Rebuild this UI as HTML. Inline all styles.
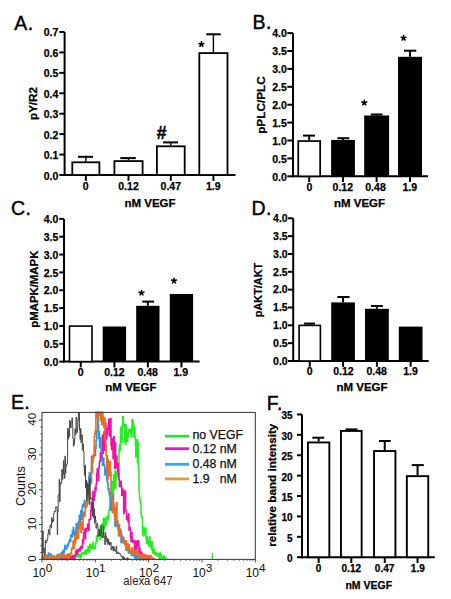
<!DOCTYPE html>
<html><head><meta charset="utf-8"><style>
html,body{margin:0;padding:0;background:#fff;}
body{width:451px;height:599px;overflow:hidden;}
svg{display:block;}
</style></head><body>
<svg width="451" height="599" viewBox="0 0 451 599">
<rect width="451" height="599" fill="#fff"/>
<line x1="64.60" y1="32.00" x2="64.60" y2="176.00" stroke="#000" stroke-width="2"/>
<line x1="63.60" y1="175.00" x2="235.50" y2="175.00" stroke="#000" stroke-width="2"/>
<line x1="59.30" y1="175.00" x2="64.60" y2="175.00" stroke="#000" stroke-width="2"/>
<text x="58.40" y="179.50" font-size="10.5" font-family="'Liberation Sans', sans-serif" font-weight="bold" text-anchor="end"  stroke="#000" stroke-width="0.25">0.0</text>
<line x1="59.30" y1="154.57" x2="64.60" y2="154.57" stroke="#000" stroke-width="2"/>
<text x="58.40" y="159.07" font-size="10.5" font-family="'Liberation Sans', sans-serif" font-weight="bold" text-anchor="end"  stroke="#000" stroke-width="0.25">0.1</text>
<line x1="59.30" y1="134.14" x2="64.60" y2="134.14" stroke="#000" stroke-width="2"/>
<text x="58.40" y="138.64" font-size="10.5" font-family="'Liberation Sans', sans-serif" font-weight="bold" text-anchor="end"  stroke="#000" stroke-width="0.25">0.2</text>
<line x1="59.30" y1="113.71" x2="64.60" y2="113.71" stroke="#000" stroke-width="2"/>
<text x="58.40" y="118.21" font-size="10.5" font-family="'Liberation Sans', sans-serif" font-weight="bold" text-anchor="end"  stroke="#000" stroke-width="0.25">0.3</text>
<line x1="59.30" y1="93.28" x2="64.60" y2="93.28" stroke="#000" stroke-width="2"/>
<text x="58.40" y="97.78" font-size="10.5" font-family="'Liberation Sans', sans-serif" font-weight="bold" text-anchor="end"  stroke="#000" stroke-width="0.25">0.4</text>
<line x1="59.30" y1="72.85" x2="64.60" y2="72.85" stroke="#000" stroke-width="2"/>
<text x="58.40" y="77.35" font-size="10.5" font-family="'Liberation Sans', sans-serif" font-weight="bold" text-anchor="end"  stroke="#000" stroke-width="0.25">0.5</text>
<line x1="59.30" y1="52.42" x2="64.60" y2="52.42" stroke="#000" stroke-width="2"/>
<text x="58.40" y="56.92" font-size="10.5" font-family="'Liberation Sans', sans-serif" font-weight="bold" text-anchor="end"  stroke="#000" stroke-width="0.25">0.6</text>
<line x1="59.30" y1="31.99" x2="64.60" y2="31.99" stroke="#000" stroke-width="2"/>
<text x="58.40" y="36.49" font-size="10.5" font-family="'Liberation Sans', sans-serif" font-weight="bold" text-anchor="end"  stroke="#000" stroke-width="0.25">0.7</text>
<line x1="85.85" y1="156.80" x2="85.85" y2="161.40" stroke="#000" stroke-width="1.4"/>
<line x1="78.00" y1="156.80" x2="93.00" y2="156.80" stroke="#000" stroke-width="2"/>
<rect x="72.30000000000001" y="162.3" width="27.09999999999999" height="12.699999999999994" fill="#fff" stroke="#000" stroke-width="1.8"/>
<line x1="85.85" y1="175.00" x2="85.85" y2="180.80" stroke="#000" stroke-width="2"/>
<line x1="128.50" y1="158.10" x2="128.50" y2="160.20" stroke="#000" stroke-width="1.4"/>
<line x1="120.30" y1="158.10" x2="135.80" y2="158.10" stroke="#000" stroke-width="2"/>
<rect x="114.4" y="161.1" width="28.2" height="13.900000000000011" fill="#fff" stroke="#000" stroke-width="1.8"/>
<line x1="128.50" y1="175.00" x2="128.50" y2="180.80" stroke="#000" stroke-width="2"/>
<line x1="170.80" y1="142.40" x2="170.80" y2="145.40" stroke="#000" stroke-width="1.4"/>
<line x1="163.00" y1="142.40" x2="178.00" y2="142.40" stroke="#000" stroke-width="2"/>
<rect x="156.9" y="146.3" width="27.799999999999994" height="28.699999999999996" fill="#fff" stroke="#000" stroke-width="1.8"/>
<line x1="170.80" y1="175.00" x2="170.80" y2="180.80" stroke="#000" stroke-width="2"/>
<line x1="213.40" y1="34.30" x2="213.40" y2="52.20" stroke="#000" stroke-width="1.4"/>
<line x1="206.30" y1="34.30" x2="220.70" y2="34.30" stroke="#000" stroke-width="2"/>
<rect x="199.3" y="53.1" width="28.2" height="121.89999999999999" fill="#fff" stroke="#000" stroke-width="1.8"/>
<line x1="213.40" y1="175.00" x2="213.40" y2="180.80" stroke="#000" stroke-width="2"/>
<text x="85.60" y="190.20" font-size="10.5" font-family="'Liberation Sans', sans-serif" font-weight="bold" text-anchor="middle"  stroke="#000" stroke-width="0.25">0</text>
<text x="128.50" y="190.20" font-size="10.5" font-family="'Liberation Sans', sans-serif" font-weight="bold" text-anchor="middle"  stroke="#000" stroke-width="0.25">0.12</text>
<text x="170.80" y="190.20" font-size="10.5" font-family="'Liberation Sans', sans-serif" font-weight="bold" text-anchor="middle"  stroke="#000" stroke-width="0.25">0.47</text>
<text x="213.30" y="190.20" font-size="10.5" font-family="'Liberation Sans', sans-serif" font-weight="bold" text-anchor="middle"  stroke="#000" stroke-width="0.25">1.9</text>
<text x="150.00" y="207.30" font-size="11.5" font-family="'Liberation Sans', sans-serif" font-weight="bold" text-anchor="middle"  stroke="#000" stroke-width="0.25">nM VEGF</text>
<text x="14.30" y="29.60" font-size="19.5" font-family="'Liberation Sans', sans-serif" text-anchor="start" stroke="#000" stroke-width="0.4" letter-spacing="0.5">A.</text>
<text x="36.60" y="103.50" font-size="11.6" font-family="'Liberation Sans', sans-serif" font-weight="bold" text-anchor="middle" transform="rotate(-90 36.60 103.50)"  stroke="#000" stroke-width="0.25">pY/R2</text>
<text x="161.6" y="138.9" font-size="17.5" font-family="'Liberation Sans', sans-serif" font-weight="bold" text-anchor="middle" stroke="#000" stroke-width="0.4">#</text>
<path d="M201.40,44.30L201.40,41.85M201.40,44.30L203.73,43.54M201.40,44.30L202.84,46.28M201.40,44.30L199.96,46.28M201.40,44.30L199.07,43.54" stroke="#000" stroke-width="1.6" stroke-linecap="round" fill="none"/>
<line x1="293.00" y1="33.10" x2="293.00" y2="177.30" stroke="#000" stroke-width="2"/>
<line x1="292.00" y1="176.30" x2="428.00" y2="176.30" stroke="#000" stroke-width="2"/>
<line x1="287.30" y1="176.30" x2="293.00" y2="176.30" stroke="#000" stroke-width="2"/>
<text x="286.80" y="180.60" font-size="10.5" font-family="'Liberation Sans', sans-serif" font-weight="bold" text-anchor="end"  stroke="#000" stroke-width="0.25">0.0</text>
<line x1="287.30" y1="158.40" x2="293.00" y2="158.40" stroke="#000" stroke-width="2"/>
<text x="286.80" y="162.70" font-size="10.5" font-family="'Liberation Sans', sans-serif" font-weight="bold" text-anchor="end"  stroke="#000" stroke-width="0.25">0.5</text>
<line x1="287.30" y1="140.50" x2="293.00" y2="140.50" stroke="#000" stroke-width="2"/>
<text x="286.80" y="144.80" font-size="10.5" font-family="'Liberation Sans', sans-serif" font-weight="bold" text-anchor="end"  stroke="#000" stroke-width="0.25">1.0</text>
<line x1="287.30" y1="122.60" x2="293.00" y2="122.60" stroke="#000" stroke-width="2"/>
<text x="286.80" y="126.90" font-size="10.5" font-family="'Liberation Sans', sans-serif" font-weight="bold" text-anchor="end"  stroke="#000" stroke-width="0.25">1.5</text>
<line x1="287.30" y1="104.70" x2="293.00" y2="104.70" stroke="#000" stroke-width="2"/>
<text x="286.80" y="109.00" font-size="10.5" font-family="'Liberation Sans', sans-serif" font-weight="bold" text-anchor="end"  stroke="#000" stroke-width="0.25">2.0</text>
<line x1="287.30" y1="86.80" x2="293.00" y2="86.80" stroke="#000" stroke-width="2"/>
<text x="286.80" y="91.10" font-size="10.5" font-family="'Liberation Sans', sans-serif" font-weight="bold" text-anchor="end"  stroke="#000" stroke-width="0.25">2.5</text>
<line x1="287.30" y1="68.90" x2="293.00" y2="68.90" stroke="#000" stroke-width="2"/>
<text x="286.80" y="73.20" font-size="10.5" font-family="'Liberation Sans', sans-serif" font-weight="bold" text-anchor="end"  stroke="#000" stroke-width="0.25">3.0</text>
<line x1="287.30" y1="51.00" x2="293.00" y2="51.00" stroke="#000" stroke-width="2"/>
<text x="286.80" y="55.30" font-size="10.5" font-family="'Liberation Sans', sans-serif" font-weight="bold" text-anchor="end"  stroke="#000" stroke-width="0.25">3.5</text>
<line x1="287.30" y1="33.10" x2="293.00" y2="33.10" stroke="#000" stroke-width="2"/>
<text x="286.80" y="37.40" font-size="10.5" font-family="'Liberation Sans', sans-serif" font-weight="bold" text-anchor="end"  stroke="#000" stroke-width="0.25">4.0</text>
<line x1="309.20" y1="135.60" x2="309.20" y2="140.20" stroke="#000" stroke-width="2"/>
<line x1="303.00" y1="135.60" x2="315.00" y2="135.60" stroke="#000" stroke-width="2"/>
<rect x="298.25" y="141.04999999999998" width="21.900000000000023" height="35.25000000000002" fill="#fff" stroke="#000" stroke-width="1.7"/>
<line x1="309.20" y1="176.30" x2="309.20" y2="182.10" stroke="#000" stroke-width="2"/>
<line x1="343.00" y1="138.20" x2="343.00" y2="139.90" stroke="#000" stroke-width="2"/>
<line x1="337.40" y1="138.20" x2="349.30" y2="138.20" stroke="#000" stroke-width="2"/>
<rect x="331.1" y="139.9" width="23.799999999999955" height="36.400000000000006" fill="#000"/>
<line x1="343.00" y1="176.30" x2="343.00" y2="182.10" stroke="#000" stroke-width="2"/>
<line x1="376.65" y1="114.50" x2="376.65" y2="115.50" stroke="#000" stroke-width="2"/>
<line x1="370.80" y1="114.50" x2="382.50" y2="114.50" stroke="#000" stroke-width="2"/>
<rect x="364.2" y="115.5" width="24.900000000000034" height="60.80000000000001" fill="#000"/>
<line x1="376.65" y1="176.30" x2="376.65" y2="182.10" stroke="#000" stroke-width="2"/>
<line x1="410.00" y1="50.70" x2="410.00" y2="56.80" stroke="#000" stroke-width="2"/>
<line x1="404.00" y1="50.70" x2="416.30" y2="50.70" stroke="#000" stroke-width="2"/>
<rect x="398" y="56.8" width="24" height="119.50000000000001" fill="#000"/>
<line x1="410.00" y1="176.30" x2="410.00" y2="182.10" stroke="#000" stroke-width="2"/>
<text x="309.30" y="191.00" font-size="10.5" font-family="'Liberation Sans', sans-serif" font-weight="bold" text-anchor="middle"  stroke="#000" stroke-width="0.25">0</text>
<text x="342.80" y="191.00" font-size="10.5" font-family="'Liberation Sans', sans-serif" font-weight="bold" text-anchor="middle"  stroke="#000" stroke-width="0.25">0.12</text>
<text x="375.50" y="191.00" font-size="10.5" font-family="'Liberation Sans', sans-serif" font-weight="bold" text-anchor="middle"  stroke="#000" stroke-width="0.25">0.48</text>
<text x="409.80" y="191.00" font-size="10.5" font-family="'Liberation Sans', sans-serif" font-weight="bold" text-anchor="middle"  stroke="#000" stroke-width="0.25">1.9</text>
<text x="359.50" y="207.30" font-size="11.5" font-family="'Liberation Sans', sans-serif" font-weight="bold" text-anchor="middle"  stroke="#000" stroke-width="0.25">nM VEGF</text>
<text x="252.50" y="29.00" font-size="19.5" font-family="'Liberation Sans', sans-serif" text-anchor="start" stroke="#000" stroke-width="0.4" letter-spacing="0.5">B.</text>
<text x="265.30" y="105.00" font-size="11.8" font-family="'Liberation Sans', sans-serif" font-weight="bold" text-anchor="middle" transform="rotate(-90 265.30 105.00)"  stroke="#000" stroke-width="0.25">pPLC/PLC</text>
<path d="M364.30,102.70L364.30,100.25M364.30,102.70L366.63,101.94M364.30,102.70L365.74,104.68M364.30,102.70L362.86,104.68M364.30,102.70L361.97,101.94" stroke="#000" stroke-width="1.6" stroke-linecap="round" fill="none"/>
<path d="M403.60,38.00L403.60,35.55M403.60,38.00L405.93,37.24M403.60,38.00L405.04,39.98M403.60,38.00L402.16,39.98M403.60,38.00L401.27,37.24" stroke="#000" stroke-width="1.6" stroke-linecap="round" fill="none"/>
<line x1="64.00" y1="218.90" x2="64.00" y2="362.60" stroke="#000" stroke-width="2"/>
<line x1="63.00" y1="361.60" x2="199.60" y2="361.60" stroke="#000" stroke-width="2"/>
<line x1="59.30" y1="361.60" x2="64.00" y2="361.60" stroke="#000" stroke-width="2"/>
<text x="58.40" y="365.70" font-size="10.5" font-family="'Liberation Sans', sans-serif" font-weight="bold" text-anchor="end"  stroke="#000" stroke-width="0.25">0.0</text>
<line x1="59.30" y1="343.76" x2="64.00" y2="343.76" stroke="#000" stroke-width="2"/>
<text x="58.40" y="347.86" font-size="10.5" font-family="'Liberation Sans', sans-serif" font-weight="bold" text-anchor="end"  stroke="#000" stroke-width="0.25">0.5</text>
<line x1="59.30" y1="325.92" x2="64.00" y2="325.92" stroke="#000" stroke-width="2"/>
<text x="58.40" y="330.02" font-size="10.5" font-family="'Liberation Sans', sans-serif" font-weight="bold" text-anchor="end"  stroke="#000" stroke-width="0.25">1.0</text>
<line x1="59.30" y1="308.08" x2="64.00" y2="308.08" stroke="#000" stroke-width="2"/>
<text x="58.40" y="312.18" font-size="10.5" font-family="'Liberation Sans', sans-serif" font-weight="bold" text-anchor="end"  stroke="#000" stroke-width="0.25">1.5</text>
<line x1="59.30" y1="290.24" x2="64.00" y2="290.24" stroke="#000" stroke-width="2"/>
<text x="58.40" y="294.34" font-size="10.5" font-family="'Liberation Sans', sans-serif" font-weight="bold" text-anchor="end"  stroke="#000" stroke-width="0.25">2.0</text>
<line x1="59.30" y1="272.40" x2="64.00" y2="272.40" stroke="#000" stroke-width="2"/>
<text x="58.40" y="276.50" font-size="10.5" font-family="'Liberation Sans', sans-serif" font-weight="bold" text-anchor="end"  stroke="#000" stroke-width="0.25">2.5</text>
<line x1="59.30" y1="254.56" x2="64.00" y2="254.56" stroke="#000" stroke-width="2"/>
<text x="58.40" y="258.66" font-size="10.5" font-family="'Liberation Sans', sans-serif" font-weight="bold" text-anchor="end"  stroke="#000" stroke-width="0.25">3.0</text>
<line x1="59.30" y1="236.72" x2="64.00" y2="236.72" stroke="#000" stroke-width="2"/>
<text x="58.40" y="240.82" font-size="10.5" font-family="'Liberation Sans', sans-serif" font-weight="bold" text-anchor="end"  stroke="#000" stroke-width="0.25">3.5</text>
<line x1="59.30" y1="218.88" x2="64.00" y2="218.88" stroke="#000" stroke-width="2"/>
<text x="58.40" y="222.98" font-size="10.5" font-family="'Liberation Sans', sans-serif" font-weight="bold" text-anchor="end"  stroke="#000" stroke-width="0.25">4.0</text>
<rect x="69.5" y="326.1" width="22.499999999999993" height="35.500000000000014" fill="#fff" stroke="#000" stroke-width="1.6"/>
<line x1="80.75" y1="361.60" x2="80.75" y2="367.40" stroke="#000" stroke-width="2"/>
<rect x="102.7" y="326.5" width="23.39999999999999" height="35.10000000000002" fill="#000"/>
<line x1="114.40" y1="361.60" x2="114.40" y2="367.40" stroke="#000" stroke-width="2"/>
<line x1="147.85" y1="301.60" x2="147.85" y2="305.80" stroke="#000" stroke-width="2"/>
<line x1="142.30" y1="301.60" x2="154.20" y2="301.60" stroke="#000" stroke-width="2"/>
<rect x="136.2" y="305.8" width="23.30000000000001" height="55.80000000000001" fill="#000"/>
<line x1="147.85" y1="361.60" x2="147.85" y2="367.40" stroke="#000" stroke-width="2"/>
<rect x="169.8" y="294" width="23.299999999999983" height="67.60000000000002" fill="#000"/>
<line x1="181.45" y1="361.60" x2="181.45" y2="367.40" stroke="#000" stroke-width="2"/>
<text x="80.60" y="376.30" font-size="10.5" font-family="'Liberation Sans', sans-serif" font-weight="bold" text-anchor="middle"  stroke="#000" stroke-width="0.25">0</text>
<text x="114.40" y="376.30" font-size="10.5" font-family="'Liberation Sans', sans-serif" font-weight="bold" text-anchor="middle"  stroke="#000" stroke-width="0.25">0.12</text>
<text x="147.60" y="376.30" font-size="10.5" font-family="'Liberation Sans', sans-serif" font-weight="bold" text-anchor="middle"  stroke="#000" stroke-width="0.25">0.48</text>
<text x="180.80" y="376.30" font-size="10.5" font-family="'Liberation Sans', sans-serif" font-weight="bold" text-anchor="middle"  stroke="#000" stroke-width="0.25">1.9</text>
<text x="130.90" y="391.00" font-size="11.5" font-family="'Liberation Sans', sans-serif" font-weight="bold" text-anchor="middle"  stroke="#000" stroke-width="0.25">nM VEGF</text>
<text x="11.00" y="214.60" font-size="19.5" font-family="'Liberation Sans', sans-serif" text-anchor="start" stroke="#000" stroke-width="0.4" letter-spacing="0.5">C.</text>
<text x="38.30" y="289.20" font-size="11.4" font-family="'Liberation Sans', sans-serif" font-weight="bold" text-anchor="middle" transform="rotate(-90 38.30 289.20)"  stroke="#000" stroke-width="0.25">pMAPK/MAPK</text>
<path d="M141.50,292.90L141.50,290.45M141.50,292.90L143.83,292.14M141.50,292.90L142.94,294.88M141.50,292.90L140.06,294.88M141.50,292.90L139.17,292.14" stroke="#000" stroke-width="1.6" stroke-linecap="round" fill="none"/>
<path d="M174.00,280.80L174.00,278.35M174.00,280.80L176.33,280.04M174.00,280.80L175.44,282.78M174.00,280.80L172.56,282.78M174.00,280.80L171.67,280.04" stroke="#000" stroke-width="1.6" stroke-linecap="round" fill="none"/>
<line x1="293.20" y1="218.30" x2="293.20" y2="362.00" stroke="#000" stroke-width="2"/>
<line x1="292.20" y1="361.00" x2="428.70" y2="361.00" stroke="#000" stroke-width="2"/>
<line x1="288.00" y1="361.00" x2="293.20" y2="361.00" stroke="#000" stroke-width="2"/>
<text x="287.70" y="364.80" font-size="10.5" font-family="'Liberation Sans', sans-serif" font-weight="bold" text-anchor="end"  stroke="#000" stroke-width="0.25">0.0</text>
<line x1="288.00" y1="343.16" x2="293.20" y2="343.16" stroke="#000" stroke-width="2"/>
<text x="287.70" y="346.96" font-size="10.5" font-family="'Liberation Sans', sans-serif" font-weight="bold" text-anchor="end"  stroke="#000" stroke-width="0.25">0.5</text>
<line x1="288.00" y1="325.32" x2="293.20" y2="325.32" stroke="#000" stroke-width="2"/>
<text x="287.70" y="329.12" font-size="10.5" font-family="'Liberation Sans', sans-serif" font-weight="bold" text-anchor="end"  stroke="#000" stroke-width="0.25">1.0</text>
<line x1="288.00" y1="307.48" x2="293.20" y2="307.48" stroke="#000" stroke-width="2"/>
<text x="287.70" y="311.28" font-size="10.5" font-family="'Liberation Sans', sans-serif" font-weight="bold" text-anchor="end"  stroke="#000" stroke-width="0.25">1.5</text>
<line x1="288.00" y1="289.64" x2="293.20" y2="289.64" stroke="#000" stroke-width="2"/>
<text x="287.70" y="293.44" font-size="10.5" font-family="'Liberation Sans', sans-serif" font-weight="bold" text-anchor="end"  stroke="#000" stroke-width="0.25">2.0</text>
<line x1="288.00" y1="271.80" x2="293.20" y2="271.80" stroke="#000" stroke-width="2"/>
<text x="287.70" y="275.60" font-size="10.5" font-family="'Liberation Sans', sans-serif" font-weight="bold" text-anchor="end"  stroke="#000" stroke-width="0.25">2.5</text>
<line x1="288.00" y1="253.96" x2="293.20" y2="253.96" stroke="#000" stroke-width="2"/>
<text x="287.70" y="257.76" font-size="10.5" font-family="'Liberation Sans', sans-serif" font-weight="bold" text-anchor="end"  stroke="#000" stroke-width="0.25">3.0</text>
<line x1="288.00" y1="236.12" x2="293.20" y2="236.12" stroke="#000" stroke-width="2"/>
<text x="287.70" y="239.92" font-size="10.5" font-family="'Liberation Sans', sans-serif" font-weight="bold" text-anchor="end"  stroke="#000" stroke-width="0.25">3.5</text>
<line x1="288.00" y1="218.28" x2="293.20" y2="218.28" stroke="#000" stroke-width="2"/>
<text x="287.70" y="222.08" font-size="10.5" font-family="'Liberation Sans', sans-serif" font-weight="bold" text-anchor="end"  stroke="#000" stroke-width="0.25">4.0</text>
<line x1="309.75" y1="323.60" x2="309.75" y2="324.60" stroke="#000" stroke-width="2"/>
<line x1="304.00" y1="323.60" x2="315.00" y2="323.60" stroke="#000" stroke-width="2"/>
<rect x="299.1" y="325.40000000000003" width="21.299999999999976" height="35.59999999999998" fill="#fff" stroke="#000" stroke-width="1.6"/>
<line x1="309.75" y1="361.00" x2="309.75" y2="366.80" stroke="#000" stroke-width="2"/>
<line x1="343.05" y1="297.00" x2="343.05" y2="302.40" stroke="#000" stroke-width="2"/>
<line x1="337.30" y1="297.00" x2="349.50" y2="297.00" stroke="#000" stroke-width="2"/>
<rect x="331.2" y="302.4" width="23.69999999999999" height="58.60000000000002" fill="#000"/>
<line x1="343.05" y1="361.00" x2="343.05" y2="366.80" stroke="#000" stroke-width="2"/>
<line x1="376.90" y1="306.00" x2="376.90" y2="308.80" stroke="#000" stroke-width="2"/>
<line x1="371.00" y1="306.00" x2="382.80" y2="306.00" stroke="#000" stroke-width="2"/>
<rect x="365" y="308.8" width="23.80000000000001" height="52.19999999999999" fill="#000"/>
<line x1="376.90" y1="361.00" x2="376.90" y2="366.80" stroke="#000" stroke-width="2"/>
<rect x="398.8" y="326.6" width="23.69999999999999" height="34.39999999999998" fill="#000"/>
<line x1="410.65" y1="361.00" x2="410.65" y2="366.80" stroke="#000" stroke-width="2"/>
<text x="309.60" y="375.40" font-size="10.5" font-family="'Liberation Sans', sans-serif" font-weight="bold" text-anchor="middle"  stroke="#000" stroke-width="0.25">0</text>
<text x="343.40" y="375.40" font-size="10.5" font-family="'Liberation Sans', sans-serif" font-weight="bold" text-anchor="middle"  stroke="#000" stroke-width="0.25">0.12</text>
<text x="376.60" y="375.40" font-size="10.5" font-family="'Liberation Sans', sans-serif" font-weight="bold" text-anchor="middle"  stroke="#000" stroke-width="0.25">0.48</text>
<text x="410.50" y="375.40" font-size="10.5" font-family="'Liberation Sans', sans-serif" font-weight="bold" text-anchor="middle"  stroke="#000" stroke-width="0.25">1.9</text>
<text x="362.00" y="391.00" font-size="11.5" font-family="'Liberation Sans', sans-serif" font-weight="bold" text-anchor="middle"  stroke="#000" stroke-width="0.25">nM VEGF</text>
<text x="251.50" y="214.60" font-size="19.5" font-family="'Liberation Sans', sans-serif" text-anchor="start" stroke="#000" stroke-width="0.4" letter-spacing="0.5">D.</text>
<text x="261.60" y="290.00" font-size="10.9" font-family="'Liberation Sans', sans-serif" font-weight="bold" text-anchor="middle" transform="rotate(-90 261.60 290.00)"  stroke="#000" stroke-width="0.25">pAKT/AKT</text>
<line x1="302.00" y1="414.50" x2="302.00" y2="558.20" stroke="#000" stroke-width="2"/>
<line x1="301.00" y1="557.20" x2="434.80" y2="557.20" stroke="#000" stroke-width="2"/>
<line x1="297.00" y1="557.20" x2="302.00" y2="557.20" stroke="#000" stroke-width="2"/>
<text x="292.60" y="562.20" font-size="10" font-family="'Liberation Sans', sans-serif" font-weight="bold" text-anchor="end"  stroke="#000" stroke-width="0.25">0</text>
<line x1="297.00" y1="536.81" x2="302.00" y2="536.81" stroke="#000" stroke-width="2"/>
<text x="292.60" y="541.81" font-size="10" font-family="'Liberation Sans', sans-serif" font-weight="bold" text-anchor="end"  stroke="#000" stroke-width="0.25">5</text>
<line x1="297.00" y1="516.42" x2="302.00" y2="516.42" stroke="#000" stroke-width="2"/>
<text x="292.60" y="521.42" font-size="10" font-family="'Liberation Sans', sans-serif" font-weight="bold" text-anchor="end"  stroke="#000" stroke-width="0.25">10</text>
<line x1="297.00" y1="496.03" x2="302.00" y2="496.03" stroke="#000" stroke-width="2"/>
<text x="292.60" y="501.03" font-size="10" font-family="'Liberation Sans', sans-serif" font-weight="bold" text-anchor="end"  stroke="#000" stroke-width="0.25">15</text>
<line x1="297.00" y1="475.64" x2="302.00" y2="475.64" stroke="#000" stroke-width="2"/>
<text x="292.60" y="480.64" font-size="10" font-family="'Liberation Sans', sans-serif" font-weight="bold" text-anchor="end"  stroke="#000" stroke-width="0.25">20</text>
<line x1="297.00" y1="455.25" x2="302.00" y2="455.25" stroke="#000" stroke-width="2"/>
<text x="292.60" y="460.25" font-size="10" font-family="'Liberation Sans', sans-serif" font-weight="bold" text-anchor="end"  stroke="#000" stroke-width="0.25">25</text>
<line x1="297.00" y1="434.86" x2="302.00" y2="434.86" stroke="#000" stroke-width="2"/>
<text x="292.60" y="439.86" font-size="10" font-family="'Liberation Sans', sans-serif" font-weight="bold" text-anchor="end"  stroke="#000" stroke-width="0.25">30</text>
<line x1="297.00" y1="414.47" x2="302.00" y2="414.47" stroke="#000" stroke-width="2"/>
<text x="292.60" y="419.47" font-size="10" font-family="'Liberation Sans', sans-serif" font-weight="bold" text-anchor="end"  stroke="#000" stroke-width="0.25">35</text>
<line x1="318.65" y1="437.70" x2="318.65" y2="441.50" stroke="#000" stroke-width="2"/>
<line x1="312.30" y1="437.70" x2="324.20" y2="437.70" stroke="#000" stroke-width="2"/>
<rect x="307.95" y="442.45" width="21.400000000000013" height="114.75000000000004" fill="#fff" stroke="#000" stroke-width="1.9"/>
<line x1="318.65" y1="557.20" x2="318.65" y2="563.00" stroke="#000" stroke-width="2"/>
<line x1="351.30" y1="429.40" x2="351.30" y2="430.00" stroke="#000" stroke-width="2"/>
<line x1="345.50" y1="429.40" x2="357.50" y2="429.40" stroke="#000" stroke-width="2"/>
<rect x="340.95" y="430.95" width="20.700000000000024" height="126.25000000000004" fill="#fff" stroke="#000" stroke-width="1.9"/>
<line x1="351.30" y1="557.20" x2="351.30" y2="563.00" stroke="#000" stroke-width="2"/>
<line x1="384.75" y1="441.00" x2="384.75" y2="450.10" stroke="#000" stroke-width="2"/>
<line x1="378.90" y1="441.00" x2="390.70" y2="441.00" stroke="#000" stroke-width="2"/>
<rect x="374.05" y="451.05" width="21.399999999999956" height="106.15000000000002" fill="#fff" stroke="#000" stroke-width="1.9"/>
<line x1="384.75" y1="557.20" x2="384.75" y2="563.00" stroke="#000" stroke-width="2"/>
<line x1="417.55" y1="465.10" x2="417.55" y2="475.20" stroke="#000" stroke-width="2"/>
<line x1="411.80" y1="465.10" x2="423.80" y2="465.10" stroke="#000" stroke-width="2"/>
<rect x="406.84999999999997" y="476.15" width="21.400000000000013" height="81.05000000000005" fill="#fff" stroke="#000" stroke-width="1.9"/>
<line x1="417.55" y1="557.20" x2="417.55" y2="563.00" stroke="#000" stroke-width="2"/>
<text x="318.50" y="571.60" font-size="10" font-family="'Liberation Sans', sans-serif" font-weight="bold" text-anchor="middle"  stroke="#000" stroke-width="0.25">0</text>
<text x="351.30" y="571.60" font-size="10" font-family="'Liberation Sans', sans-serif" font-weight="bold" text-anchor="middle"  stroke="#000" stroke-width="0.25">0.12</text>
<text x="384.60" y="571.60" font-size="10" font-family="'Liberation Sans', sans-serif" font-weight="bold" text-anchor="middle"  stroke="#000" stroke-width="0.25">0.47</text>
<text x="417.80" y="571.60" font-size="10" font-family="'Liberation Sans', sans-serif" font-weight="bold" text-anchor="middle"  stroke="#000" stroke-width="0.25">1.9</text>
<text x="368.80" y="588.80" font-size="10.5" font-family="'Liberation Sans', sans-serif" font-weight="bold" text-anchor="middle"  stroke="#000" stroke-width="0.25">nM VEGF</text>
<text x="266.70" y="410.30" font-size="19.5" font-family="'Liberation Sans', sans-serif" text-anchor="start" stroke="#000" stroke-width="0.4" letter-spacing="0.5">F.</text>
<text x="276.00" y="485.20" font-size="11.66" font-family="'Liberation Sans', sans-serif" font-weight="bold" text-anchor="middle" transform="rotate(-90 276.00 485.20)"  stroke="#000" stroke-width="0.25">relative band intensity</text>
<text x="11.00" y="409.00" font-size="19.5" font-family="'Liberation Sans', sans-serif" text-anchor="start" stroke="#000" stroke-width="0.4" letter-spacing="0.3">E.</text>
<path d="M66.70,558.8H67.18V559.4H67.66V558.9H68.14V558.9H68.62V558.4H69.10V559.0H69.58V559.4H70.06V559.4H70.54V559.4H71.02V559.4H71.50V559.4H72.01V559.2H72.53V557.2H73.04V559.3H73.55V558.6H74.06V558.3H74.57V555.3H75.09V554.7H75.60V555.5H76.09V555.9H76.58V556.8H77.07V556.1H77.56V556.8H78.05V554.8H78.55V556.1H79.04V556.1H79.53V554.2H80.02V557.9H80.51V555.8H81.00V556.7H81.51V553.3H82.02V552.7H82.53V553.1H83.04V553.2H83.55V554.3H84.05V553.3H84.56V551.6H85.07V550.2H85.58V550.7H86.09V554.1H86.60V549.4H87.11V551.4H87.62V551.5H88.14V546.8H88.65V550.0H89.16V552.6H89.67V544.3H90.19V548.1H90.70V548.2H91.21V545.9H91.72V548.8H92.24V546.8H92.75V542.5H93.26V548.2H93.78V547.3H94.29V547.6H94.80V548.5H95.34V544.1H95.88V542.0H96.42V536.1H96.96V540.9H97.50V535.4H98.00V535.4H98.50V532.0H99.00V532.5H99.50V533.4H100.00V539.5H100.47V526.7H100.93V528.0H101.40V533.6H101.87V537.5H102.33V533.5H102.80V523.2H103.32V518.6H103.84V528.4H104.36V521.9H104.88V518.3H105.40V525.7H105.92V524.5H106.44V518.3H106.96V516.9H107.48V516.0H108.00V519.9H108.50V512.8H109.00V510.0H109.50V507.8H110.00V494.0H110.50V507.2H111.00V503.2H111.50V498.4H112.00V481.4H112.50V487.0H113.00V493.6H113.50V475.1H114.00V482.9H114.50V488.2H115.00V471.1H115.50V487.7H116.00V478.6H116.48V473.0H116.96V475.2H117.44V476.4H117.92V471.8H118.40V477.8H119.00V449.1H119.47V445.1H119.93V450.5H120.40V436.9H120.83V427.4H121.27V439.9H121.70V442.0H122.20V425.4H122.70V416.7H123.20V425.9H123.70V424.8H124.13V425.8H124.57V441.9H125.00V424.4H125.47V444.2H125.93V425.2H126.40V430.4H126.87V439.5H127.33V441.4H127.80V437.0H128.30V432.2H128.80V429.9H129.30V429.3H129.80V432.1H130.40V429.3H131.00V436.2H131.47V431.7H131.93V420.0H132.40V419.6H132.87V421.3H133.33V437.0H133.80V426.1H134.40V428.6H135.00V437.8H135.40V445.2H135.80V456.9H136.40V440.7H137.00V439.8H137.40V462.6H137.80V442.5H138.40V469.5H139.00V491.5H139.50V497.4H140.00V501.5H140.50V502.9H141.00V513.6H141.50V516.7H142.00V518.1H142.50V535.8H143.00V529.0H143.50V527.3H144.00V531.2H144.50V532.7H145.00V535.3H145.50V528.3H146.00V538.0H146.50V543.2H147.00V536.6H147.50V540.5H148.00V544.1H148.50V544.2H149.00V546.5H149.50V537.1H150.00V541.6H150.50V542.0H151.00V546.6H151.50V549.5H152.00V541.8H152.50V552.7H153.00V549.0H153.50V553.6H154.00V549.3H154.50V552.9H155.00V555.1H155.50V552.6H156.00V553.5H156.50V554.8H157.00V553.7H157.50V553.5H158.00V556.6H158.50V555.9H159.00V553.8H159.50V559.4H160.00V553.1H160.50V557.0H161.00V555.8H161.50V557.0H162.00V558.3H162.50V557.8H163.00V558.5H163.50V556.1H164.00V556.3H164.50V559.0H165.00V557.8H165.50V558.2H166.00V559.4" fill="none" stroke="#22ee22" stroke-width="1.5" stroke-opacity="1"/>
<path d="M60.00,557.7H60.50V559.4H61.00V559.4H61.50V559.4H62.00V557.7H62.50V558.5H63.00V557.2H63.50V559.1H64.00V559.4H64.50V557.1H65.00V559.4H65.50V559.0H66.00V557.6H66.50V555.4H67.00V559.3H67.50V557.4H68.00V556.6H68.50V557.8H69.00V557.7H69.50V559.1H70.00V555.6H70.50V558.4H71.00V558.8H71.50V558.7H72.00V556.3H72.50V555.4H73.00V557.9H73.50V556.5H74.00V556.4H74.50V558.2H75.00V555.6H75.50V551.4H76.00V553.6H76.50V549.9H77.00V554.2H77.50V552.4H78.00V549.5H78.50V550.0H79.00V551.1H79.50V548.5H80.00V550.8H80.50V546.4H81.00V548.6H81.53V548.6H82.05V547.8H82.58V539.5H83.10V543.1H83.62V532.7H84.15V533.8H84.67V529.3H85.20V538.7H85.67V528.6H86.13V531.5H86.60V529.1H87.07V528.2H87.53V524.2H88.00V526.0H88.54V530.2H89.08V519.8H89.62V519.4H90.16V519.1H90.70V510.5H91.24V502.3H91.78V503.1H92.32V509.1H92.86V491.4H93.40V494.4H93.93V500.2H94.47V495.7H95.00V487.5H95.54V490.4H96.08V484.3H96.62V473.7H97.16V469.0H97.70V472.8H98.22V480.4H98.74V467.8H99.26V462.7H99.78V460.9H100.30V452.7H100.83V460.0H101.35V449.6H101.88V458.1H102.40V435.3H102.90V453.3H103.40V444.0H103.90V432.0H104.40V450.4H104.90V440.6H105.40V423.3H105.90V431.8H106.40V439.0H106.83V428.6H107.27V434.2H107.70V429.6H108.13V425.6H108.57V419.3H109.00V424.6H109.50V435.4H110.00V436.3H110.50V418.7H111.00V445.1H111.50V449.6H112.00V438.4H112.50V438.4H113.00V458.4H113.70V436.8H114.20V453.5H114.70V468.2H115.20V443.0H115.70V455.2H116.13V467.5H116.57V456.3H117.00V464.8H117.47V471.5H117.93V463.4H118.40V473.4H118.83V479.5H119.27V486.5H119.70V484.7H120.20V485.0H120.70V481.3H121.20V486.6H121.70V495.3H122.19V492.7H122.68V489.2H123.17V491.5H123.66V513.4H124.15V506.8H124.64V506.1H125.13V490.9H125.62V510.1H126.11V511.4H126.60V519.5H127.08V516.0H127.56V516.5H128.04V522.1H128.52V514.1H129.00V529.9H129.50V529.2H130.00V527.4H130.50V537.5H131.00V541.4H131.50V532.4H132.00V537.4H132.50V541.5H133.00V542.2H133.50V541.4H134.00V540.8H134.50V550.7H135.00V548.5H135.50V543.5H136.00V541.2H136.50V548.3H137.00V544.6H137.50V545.7H138.00V540.7H138.50V542.6H139.00V552.5H139.48V547.9H139.96V551.2H140.45V552.9H140.93V554.3H141.41V552.3H141.89V553.7H142.37V555.1H142.85V555.3H143.34V556.0H143.82V555.6H144.30V555.1H144.87V557.5H145.43V557.3H146.00V557.1H146.50V557.5H147.00V558.3H147.50V558.4H148.00V558.8H148.50V558.9H149.00V559.2H149.50V559.1H150.00V559.4" fill="none" stroke="#f010a8" stroke-width="1.5" stroke-opacity="1"/>
<path d="M42.40,557.9H42.91V559.2H43.41V559.4H43.92V558.8H44.43V558.0H44.93V558.5H45.44V556.7H45.95V555.3H46.45V557.5H46.96V556.0H47.47V558.0H47.97V555.3H48.48V552.9H48.99V554.9H49.49V558.5H50.00V555.4H50.50V554.0H51.00V555.0H51.50V557.0H52.00V557.0H52.50V556.6H53.00V558.5H53.50V557.4H54.00V556.5H54.50V557.4H55.00V558.9H55.50V558.0H56.00V558.2H56.50V555.3H57.00V556.7H57.50V557.9H58.00V556.6H58.48V558.0H58.96V556.8H59.45V556.8H59.93V554.5H60.41V558.8H60.89V556.0H61.37V552.8H61.85V552.8H62.34V557.4H62.82V550.8H63.30V552.9H63.80V552.4H64.30V549.3H64.80V545.5H65.30V548.1H65.80V547.7H66.30V549.0H66.80V547.2H67.30V544.2H67.80V545.8H68.30V544.1H68.80V542.2H69.29V541.0H69.78V539.3H70.27V541.6H70.76V535.1H71.25V535.7H71.75V537.1H72.24V531.3H72.73V534.1H73.22V527.6H73.71V531.6H74.20V535.5H74.70V534.6H75.20V531.2H75.70V529.5H76.20V523.8H76.70V535.8H77.20V529.6H77.70V531.0H78.20V521.7H78.70V523.7H79.20V515.6H79.70V525.9H80.21V525.1H80.72V510.7H81.24V517.6H81.75V519.2H82.26V506.2H82.78V504.2H83.29V506.2H83.80V506.8H84.30V500.4H84.80V505.5H85.30V504.4H85.80V504.2H86.30V502.3H86.80V504.6H87.30V500.5H87.80V482.4H88.30V483.8H88.80V476.8H89.30V473.1H89.84V476.5H90.38V474.0H90.92V474.3H91.46V457.1H92.00V456.4H92.50V462.3H93.00V458.6H93.50V455.2H94.00V454.5H94.50V446.9H95.00V455.3H95.54V448.2H96.08V440.3H96.62V431.1H97.16V430.5H97.70V412.4H98.13V424.8H98.57V438.4H99.00V431.8H99.50V446.6H100.00V447.8H100.50V437.9H101.00V448.1H101.47V451.3H101.93V460.5H102.40V465.2H102.90V462.2H103.40V458.2H103.90V464.8H104.40V467.0H104.83V474.7H105.27V473.9H105.70V469.4H106.20V469.4H106.70V479.7H107.20V481.5H107.70V483.3H108.15V490.1H108.60V488.6H109.05V492.9H109.50V496.1H110.00V492.6H110.50V510.2H111.00V497.2H111.50V507.1H112.00V503.7H112.50V510.9H113.00V494.6H113.50V505.2H114.00V512.2H114.50V516.0H115.00V526.2H115.50V518.3H116.00V524.5H116.50V523.9H117.00V526.4H117.50V526.2H118.00V525.1H118.50V529.7H119.00V525.1H119.50V535.8H120.00V529.2H120.50V534.9H121.00V542.6H121.50V535.2H122.00V537.1H122.50V541.9H123.00V539.1H123.50V537.4H124.00V541.8H124.50V543.8H125.00V545.1H125.50V541.8H126.00V549.9H126.50V550.5H127.00V547.0H127.50V548.7H128.00V548.0H128.50V552.8H129.00V548.4H129.50V552.0H130.00V549.9H130.50V550.0H131.00V553.5H131.50V555.2H132.00V553.0H132.50V552.2H133.00V555.5H133.50V554.4H134.00V555.5H134.50V557.9H135.00V557.7H135.50V555.4H136.00V559.4H136.50V556.5H137.00V557.8H137.50V556.0H138.00V557.0H138.50V554.9H139.00V559.4H139.50V559.2H140.00V556.3H140.50V556.1H141.00V556.2H141.50V559.4H142.00V557.9H142.50V558.5H143.00V558.4H143.50V558.8H144.00V558.1H144.50V559.2H145.00V559.4" fill="none" stroke="#2298e6" stroke-width="1.5" stroke-opacity="1"/>
<path d="M42.40,556.4H42.91V557.9H43.41V558.2H43.92V558.3H44.43V557.5H44.93V556.6H45.44V557.8H45.95V556.9H46.45V559.4H46.96V558.4H47.47V557.2H47.97V556.7H48.48V556.3H48.99V555.9H49.49V556.6H50.00V557.4H50.50V557.8H51.00V557.9H51.50V559.4H52.00V556.5H52.50V557.5H53.00V559.4H53.50V555.5H54.00V557.2H54.50V558.1H55.00V558.2H55.50V558.3H56.00V557.3H56.50V557.9H57.00V557.3H57.50V558.0H58.00V554.2H58.50V555.4H59.00V556.4H59.50V554.7H60.00V554.4H60.50V557.0H61.00V555.2H61.50V557.2H62.00V557.5H62.50V556.9H63.00V557.3H63.50V556.6H64.00V554.9H64.50V556.9H65.00V557.6H65.50V556.0H66.00V556.3H66.50V557.2H67.00V554.4H67.50V556.5H68.00V558.2H68.50V554.0H69.00V554.9H69.50V554.0H70.00V556.8H70.51V553.3H71.02V553.2H71.53V548.3H72.04V548.5H72.55V547.2H73.05V541.0H73.56V548.6H74.07V545.8H74.58V536.3H75.09V542.7H75.60V538.6H76.09V539.3H76.58V537.7H77.07V529.8H77.56V533.1H78.05V538.3H78.55V529.2H79.04V526.1H79.53V523.4H80.02V522.5H80.51V527.7H81.00V532.2H81.53V525.0H82.05V522.3H82.58V529.6H83.10V515.1H83.62V512.4H84.15V516.3H84.67V514.6H85.20V504.9H85.67V501.9H86.13V507.5H86.60V505.3H87.07V494.9H87.53V498.9H88.00V494.9H88.50V496.2H89.00V488.3H89.50V484.0H90.00V477.7H90.50V483.5H91.00V482.5H91.50V467.3H92.00V472.3H92.47V455.7H92.93V456.3H93.40V456.0H93.87V456.7H94.33V436.7H94.80V433.8H95.35V430.7H95.90V412.4H96.45V418.5H97.00V412.4H97.47V416.2H97.94V412.4H98.41V412.4H98.89V413.3H99.36V415.3H99.83V412.4H100.30V420.7H100.83V413.3H101.35V413.0H101.88V424.8H102.40V412.4H102.90V416.7H103.40V421.2H103.90V427.6H104.40V418.0H105.00V439.2H105.70V445.1H106.13V455.8H106.57V469.3H107.00V455.9H107.47V479.3H107.93V459.8H108.40V466.1H108.83V468.5H109.27V475.7H109.70V461.6H110.40V472.0H111.00V493.6H111.50V497.3H112.00V498.9H112.50V512.8H113.00V501.8H113.50V504.7H114.00V510.9H114.50V510.5H115.00V519.6H115.50V507.9H116.00V514.8H116.50V502.7H117.00V524.3H117.50V521.1H118.00V528.7H118.50V535.7H119.00V528.7H119.50V529.8H120.00V530.2H120.50V530.2H121.00V532.3H121.50V538.1H122.00V537.2H122.50V538.6H123.00V539.0H123.50V543.3H124.00V542.6H124.50V541.4H125.00V544.6H125.50V542.9H126.00V540.7H126.50V548.9H127.00V546.8H127.50V543.7H128.00V549.9H128.50V548.6H129.00V544.7H129.50V553.1H130.00V550.8H130.51V552.3H131.03V551.0H131.54V550.5H132.06V547.8H132.57V553.5H133.09V551.8H133.60V551.4H134.11V553.0H134.63V552.7H135.14V554.2H135.66V552.4H136.17V553.4H136.69V549.8H137.20V553.2H137.70V555.3H138.19V556.6H138.69V553.8H139.18V554.3H139.68V557.4H140.18V554.3H140.67V556.2H141.17V557.9H141.66V555.3H142.16V557.3H142.66V554.4H143.15V556.0H143.65V555.6H144.14V556.1H144.64V557.7H145.14V559.4H145.63V555.3H146.13V555.6H146.62V557.3H147.12V555.3H147.62V557.5H148.11V557.8H148.61V556.8H149.10V557.9H149.60V555.5H150.09V558.5H150.58V556.0H151.07V557.2H151.56V557.5H152.05V557.9H152.55V559.3H153.04V558.8H153.53V558.5H154.02V559.4H154.51V559.4H155.00V559.4" fill="none" stroke="#f26a1c" stroke-width="1.6" stroke-opacity="1"/>
<path d="M42.40,559.0H42.70V554.7H42.70V531.2H43.20V552.6H43.73V548.0H44.27V555.5H44.80V554.0H45.30V540.3H45.80V542.9H46.30V541.6H46.80V540.8H47.32V538.5H47.85V533.8H48.38V529.5H48.90V532.4H49.42V535.0H49.95V525.7H50.48V524.9H51.00V527.9H51.54V517.7H52.08V522.5H52.62V519.5H53.16V521.3H53.70V513.7H54.23V511.0H54.75V511.6H55.27V511.5H55.80V506.6H56.40V507.4H57.00V508.7H57.30V534.7H57.60V512.2H58.13V495.5H58.67V494.4H59.20V479.2H59.63V501.8H60.07V482.8H60.50V483.8H61.20V483.3H61.75V469.4H62.30V479.4H62.85V474.4H63.40V460.6H63.90V473.4H64.40V478.3H64.90V456.1H65.40V473.1H65.83V466.7H66.27V466.4H66.70V463.9H67.40V457.3H67.60V428.2H68.15V439.1H68.70V430.7H69.13V436.4H69.57V420.2H70.00V422.5H70.70V428.0H71.13V421.6H71.57V421.3H72.00V418.0H72.40V425.7H72.80V438.2H73.40V446.1H74.00V444.0H74.47V439.1H74.93V428.8H75.40V434.7H76.00V417.4H76.47V418.3H76.93V432.5H77.40V427.9H77.90V420.3H78.40V412.9H78.90V412.4H79.45V430.0H80.00V439.5H80.47V428.5H80.93V442.7H81.40V442.1H81.87V434.7H82.33V450.2H82.80V443.9H83.40V451.5H84.00V467.6H84.40V475.2H84.80V465.3H85.50V487.7H86.00V480.2H86.50V500.5H87.00V483.9H87.50V494.8H88.00V484.3H88.54V494.7H89.08V504.6H89.62V478.2H90.16V492.2H90.70V499.3H91.20V498.6H91.70V498.2H92.20V516.1H92.70V507.8H93.17V502.3H93.63V518.0H94.10V508.9H94.57V523.3H95.03V516.1H95.50V520.4H96.00V528.3H96.50V526.3H97.00V523.3H97.50V525.5H98.00V536.6H98.50V535.0H99.00V529.2H99.50V535.7H100.00V534.4H100.48V535.2H100.96V524.7H101.45V532.3H101.93V537.1H102.41V536.8H102.89V537.6H103.37V525.8H103.85V535.7H104.34V537.1H104.82V544.7H105.30V532.6H105.78V535.8H106.26V538.1H106.75V541.9H107.23V538.5H107.71V544.5H108.19V539.4H108.67V543.6H109.15V542.2H109.64V545.2H110.12V543.8H110.60V542.5H111.11V549.9H111.61V548.2H112.12V546.4H112.63V548.7H113.14V551.0H113.64V546.6H114.15V549.1H114.66V551.0H115.16V551.3H115.67V549.7H116.18V546.2H116.69V553.9H117.19V552.3H117.70V552.0H118.21V552.2H118.73V554.0H119.24V553.6H119.76V553.4H120.27V554.7H120.79V555.8H121.30V556.6H121.83V556.2H122.36V558.6H122.89V556.6H123.41V559.0H123.94V557.5H124.47V559.1H125.00V559.4H125.50V559.2H126.00V558.5H126.50V559.2H127.00V559.3H127.50V557.8H128.00V558.8H128.50V559.4H129.00V559.0H129.50V559.4H130.00V559.4" fill="none" stroke="#444" stroke-width="1.0" stroke-opacity="1"/>
<line x1="212.30" y1="553.00" x2="212.30" y2="559.40" stroke="#33e033" stroke-width="1.2"/>
<rect x="42.0" y="412.4" width="213.3" height="147.0" fill="none" stroke="#333" stroke-width="1"/>
<line x1="39.00" y1="559.40" x2="42.00" y2="559.40" stroke="#444" stroke-width="1"/>
<line x1="40.40" y1="552.43" x2="42.00" y2="552.43" stroke="#444" stroke-width="1"/>
<line x1="40.40" y1="545.46" x2="42.00" y2="545.46" stroke="#444" stroke-width="1"/>
<line x1="40.40" y1="538.49" x2="42.00" y2="538.49" stroke="#444" stroke-width="1"/>
<line x1="40.40" y1="531.52" x2="42.00" y2="531.52" stroke="#444" stroke-width="1"/>
<line x1="39.00" y1="524.55" x2="42.00" y2="524.55" stroke="#444" stroke-width="1"/>
<line x1="40.40" y1="517.58" x2="42.00" y2="517.58" stroke="#444" stroke-width="1"/>
<line x1="40.40" y1="510.61" x2="42.00" y2="510.61" stroke="#444" stroke-width="1"/>
<line x1="40.40" y1="503.64" x2="42.00" y2="503.64" stroke="#444" stroke-width="1"/>
<line x1="40.40" y1="496.67" x2="42.00" y2="496.67" stroke="#444" stroke-width="1"/>
<line x1="39.00" y1="489.70" x2="42.00" y2="489.70" stroke="#444" stroke-width="1"/>
<line x1="40.40" y1="482.73" x2="42.00" y2="482.73" stroke="#444" stroke-width="1"/>
<line x1="40.40" y1="475.76" x2="42.00" y2="475.76" stroke="#444" stroke-width="1"/>
<line x1="40.40" y1="468.79" x2="42.00" y2="468.79" stroke="#444" stroke-width="1"/>
<line x1="40.40" y1="461.82" x2="42.00" y2="461.82" stroke="#444" stroke-width="1"/>
<line x1="39.00" y1="454.85" x2="42.00" y2="454.85" stroke="#444" stroke-width="1"/>
<line x1="40.40" y1="447.88" x2="42.00" y2="447.88" stroke="#444" stroke-width="1"/>
<line x1="40.40" y1="440.91" x2="42.00" y2="440.91" stroke="#444" stroke-width="1"/>
<line x1="40.40" y1="433.94" x2="42.00" y2="433.94" stroke="#444" stroke-width="1"/>
<line x1="40.40" y1="426.97" x2="42.00" y2="426.97" stroke="#444" stroke-width="1"/>
<line x1="39.00" y1="420.00" x2="42.00" y2="420.00" stroke="#444" stroke-width="1"/>
<text x="36.30" y="558.60" font-size="11.6" font-family="'Liberation Sans', sans-serif" text-anchor="middle" transform="rotate(-90 36.30 558.60)" fill="#111">0</text>
<text x="36.30" y="523.75" font-size="11.6" font-family="'Liberation Sans', sans-serif" text-anchor="middle" transform="rotate(-90 36.30 523.75)" fill="#111">10</text>
<text x="36.30" y="488.90" font-size="11.6" font-family="'Liberation Sans', sans-serif" text-anchor="middle" transform="rotate(-90 36.30 488.90)" fill="#111">20</text>
<text x="36.30" y="454.05" font-size="11.6" font-family="'Liberation Sans', sans-serif" text-anchor="middle" transform="rotate(-90 36.30 454.05)" fill="#111">30</text>
<text x="36.30" y="419.20" font-size="11.6" font-family="'Liberation Sans', sans-serif" text-anchor="middle" transform="rotate(-90 36.30 419.20)" fill="#111">40</text>
<text x="25.00" y="486.10" font-size="12.6" font-family="'Liberation Sans', sans-serif" text-anchor="middle" transform="rotate(-90 25.00 486.10)" fill="#111">Counts</text>
<line x1="42.00" y1="559.40" x2="42.00" y2="562.40" stroke="#444" stroke-width="1"/>
<text x="32.40" y="576.7" font-size="12" font-family="'Liberation Sans', sans-serif" fill="#111">10<tspan dy="-4.6" font-size="11.8">0</tspan></text>
<line x1="58.05" y1="559.40" x2="58.05" y2="560.90" stroke="#444" stroke-width="0.8"/>
<line x1="67.44" y1="559.40" x2="67.44" y2="560.90" stroke="#444" stroke-width="0.8"/>
<line x1="74.10" y1="559.40" x2="74.10" y2="560.90" stroke="#444" stroke-width="0.8"/>
<line x1="79.27" y1="559.40" x2="79.27" y2="560.90" stroke="#444" stroke-width="0.8"/>
<line x1="83.49" y1="559.40" x2="83.49" y2="560.90" stroke="#444" stroke-width="0.8"/>
<line x1="87.06" y1="559.40" x2="87.06" y2="560.90" stroke="#444" stroke-width="0.8"/>
<line x1="90.16" y1="559.40" x2="90.16" y2="560.90" stroke="#444" stroke-width="0.8"/>
<line x1="92.88" y1="559.40" x2="92.88" y2="560.90" stroke="#444" stroke-width="0.8"/>
<line x1="95.33" y1="559.40" x2="95.33" y2="562.40" stroke="#444" stroke-width="1"/>
<text x="85.73" y="576.7" font-size="12" font-family="'Liberation Sans', sans-serif" fill="#111">10<tspan dy="-4.6" font-size="11.8">1</tspan></text>
<line x1="111.38" y1="559.40" x2="111.38" y2="560.90" stroke="#444" stroke-width="0.8"/>
<line x1="120.77" y1="559.40" x2="120.77" y2="560.90" stroke="#444" stroke-width="0.8"/>
<line x1="127.43" y1="559.40" x2="127.43" y2="560.90" stroke="#444" stroke-width="0.8"/>
<line x1="132.60" y1="559.40" x2="132.60" y2="560.90" stroke="#444" stroke-width="0.8"/>
<line x1="136.82" y1="559.40" x2="136.82" y2="560.90" stroke="#444" stroke-width="0.8"/>
<line x1="140.39" y1="559.40" x2="140.39" y2="560.90" stroke="#444" stroke-width="0.8"/>
<line x1="143.48" y1="559.40" x2="143.48" y2="560.90" stroke="#444" stroke-width="0.8"/>
<line x1="146.21" y1="559.40" x2="146.21" y2="560.90" stroke="#444" stroke-width="0.8"/>
<line x1="148.65" y1="559.40" x2="148.65" y2="562.40" stroke="#444" stroke-width="1"/>
<text x="139.05" y="576.7" font-size="12" font-family="'Liberation Sans', sans-serif" fill="#111">10<tspan dy="-4.6" font-size="11.8">2</tspan></text>
<line x1="164.70" y1="559.40" x2="164.70" y2="560.90" stroke="#444" stroke-width="0.8"/>
<line x1="174.09" y1="559.40" x2="174.09" y2="560.90" stroke="#444" stroke-width="0.8"/>
<line x1="180.75" y1="559.40" x2="180.75" y2="560.90" stroke="#444" stroke-width="0.8"/>
<line x1="185.92" y1="559.40" x2="185.92" y2="560.90" stroke="#444" stroke-width="0.8"/>
<line x1="190.14" y1="559.40" x2="190.14" y2="560.90" stroke="#444" stroke-width="0.8"/>
<line x1="193.71" y1="559.40" x2="193.71" y2="560.90" stroke="#444" stroke-width="0.8"/>
<line x1="196.81" y1="559.40" x2="196.81" y2="560.90" stroke="#444" stroke-width="0.8"/>
<line x1="199.53" y1="559.40" x2="199.53" y2="560.90" stroke="#444" stroke-width="0.8"/>
<line x1="201.98" y1="559.40" x2="201.98" y2="562.40" stroke="#444" stroke-width="1"/>
<text x="192.38" y="576.7" font-size="12" font-family="'Liberation Sans', sans-serif" fill="#111">10<tspan dy="-4.6" font-size="11.8">3</tspan></text>
<line x1="218.03" y1="559.40" x2="218.03" y2="560.90" stroke="#444" stroke-width="0.8"/>
<line x1="227.42" y1="559.40" x2="227.42" y2="560.90" stroke="#444" stroke-width="0.8"/>
<line x1="234.08" y1="559.40" x2="234.08" y2="560.90" stroke="#444" stroke-width="0.8"/>
<line x1="239.25" y1="559.40" x2="239.25" y2="560.90" stroke="#444" stroke-width="0.8"/>
<line x1="243.47" y1="559.40" x2="243.47" y2="560.90" stroke="#444" stroke-width="0.8"/>
<line x1="247.04" y1="559.40" x2="247.04" y2="560.90" stroke="#444" stroke-width="0.8"/>
<line x1="250.13" y1="559.40" x2="250.13" y2="560.90" stroke="#444" stroke-width="0.8"/>
<line x1="252.86" y1="559.40" x2="252.86" y2="560.90" stroke="#444" stroke-width="0.8"/>
<line x1="255.30" y1="559.40" x2="255.30" y2="562.40" stroke="#444" stroke-width="1"/>
<text x="245.70" y="576.7" font-size="12" font-family="'Liberation Sans', sans-serif" fill="#111">10<tspan dy="-4.6" font-size="11.8">4</tspan></text>
<text x="123.3" y="585" font-size="12" font-family="'Liberation Sans', sans-serif" fill="#222" textLength="49.2" lengthAdjust="spacingAndGlyphs">alexa 647</text>
<line x1="165.00" y1="436.20" x2="189.00" y2="436.20" stroke="#33dd33" stroke-width="2.8"/>
<text x="192.40" y="438.90" font-size="12.3" font-family="'Liberation Sans', sans-serif" text-anchor="start" fill="#111" stroke="#111" stroke-width="0.25">no VEGF</text>
<line x1="165.00" y1="448.70" x2="189.00" y2="448.70" stroke="#d820c0" stroke-width="2.8"/>
<text x="192.40" y="453.30" font-size="12.3" font-family="'Liberation Sans', sans-serif" text-anchor="start" fill="#111" stroke="#111" stroke-width="0.25">0.12 nM</text>
<line x1="165.00" y1="464.30" x2="189.00" y2="464.30" stroke="#30acec" stroke-width="2.8"/>
<text x="192.40" y="468.00" font-size="12.3" font-family="'Liberation Sans', sans-serif" text-anchor="start" fill="#111" stroke="#111" stroke-width="0.25">0.48 nM</text>
<line x1="165.00" y1="478.90" x2="189.00" y2="478.90" stroke="#ec9a30" stroke-width="2.8"/>
<text x="192.40" y="482.50" font-size="12.3" font-family="'Liberation Sans', sans-serif" text-anchor="start" fill="#111" stroke="#111" stroke-width="0.25">1.9&#160;&#160;&#160;nM</text>
</svg>
</body></html>
